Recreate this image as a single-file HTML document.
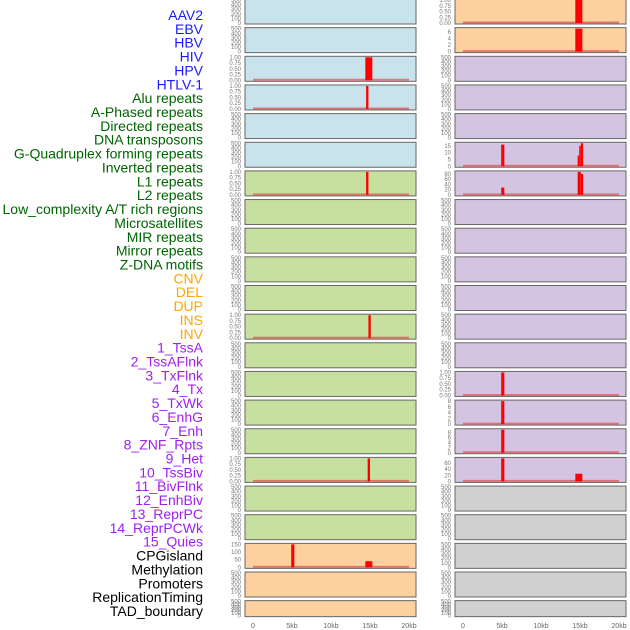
<!DOCTYPE html>
<html><head><meta charset="utf-8">
<style>
html,body{margin:0;padding:0;background:#fff;}
svg{display:block;font-family:"Liberation Sans",sans-serif;}
</style></head>
<body>
<svg id="chart" width="630" height="630" viewBox="0 0 630 630">
<g id="labels"></g>
<g id="panels"></g>
<g id="xaxes"></g>
</svg>
<script>
const labelNames = ["AAV2","EBV","HBV","HIV","HPV","HTLV-1","Alu repeats","A-Phased repeats","Directed repeats","DNA transposons","G-Quadruplex forming repeats","Inverted repeats","L1 repeats","L2 repeats","Low_complexity A/T rich regions","Microsatellites","MIR repeats","Mirror repeats","Z-DNA motifs","CNV","DEL","DUP","INS","INV","1_TssA","2_TssAFlnk","3_TxFlnk","4_Tx","5_TxWk","6_EnhG","7_Enh","8_ZNF_Rpts","9_Het","10_TssBiv","11_BivFlnk","12_EnhBiv","13_ReprPC","14_ReprPCWk","15_Quies","CPGisland","Methylation","Promoters","ReplicationTiming","TAD_boundary"];
const labelGroups = [6,13,5,15,5];
const groupColors = ["#1a1aff","#006400","#ffa500","#a020f0","#000000"];
const leftFill = ["b","b","b","b","b","b","g","g","g","g","g","g","g","g","g","g","g","g","g","o","o","o"];
const rightFill = ["o","o","p","p","p","p","p","p","p","p","p","p","p","p","p","p","p","y","y","y","y","y"];
const leftMax = [0,0,1,1,0,0,1,0,0,0,0,1,0,0,0,0,1,0,0,150,0,0];
const rightMax = [1,7,0,0,0,17,88,0,0,0,0,0,0,1,8,9,75,0,0,0,0,0];
const leftBars = {2:[[14.4,15.3,1]],3:[[14.5,14.8,1]],6:[[14.5,14.8,1]],11:[[14.8,15.1,1]],16:[[14.7,15.0,1]],19:[[4.9,5.3,150],[14.4,15.3,40]]};
const rightBars = {0:[[14.4,15.3,1]],1:[[14.4,15.3,7]],5:[[4.9,5.3,16],[14.7,14.9,8],[14.9,15.1,15],[15.1,15.4,17]],6:[[4.9,5.3,28],[14.7,15.1,88],[15.1,15.4,80]],13:[[4.9,5.3,1]],14:[[4.9,5.3,8]],15:[[4.9,5.3,9]],16:[[4.9,5.3,75],[14.4,15.3,25]]};
const xTickVals = [0,5,10,15,20];
const xTickLabels = ["0","5kb","10kb","15kb","20kb"];

const NS="http://www.w3.org/2000/svg";
function mk(tag,attrs,parent){const e=document.createElementNS(NS,tag);for(const k in attrs)e.setAttribute(k,attrs[k]);parent.appendChild(e);return e;}
const fills={b:"#c8e3eb",g:"#c8e09f",o:"#fdd09e",p:"#d4c4e2",y:"#d0d0d0"};
const labG=document.getElementById('labels');
let idx=0;
labelGroups.forEach((n,gi)=>{for(let i=0;i<n;i++){const t=mk('text',{x:203,y:20+idx*13.86,'text-anchor':'end','font-size':14,fill:groupColors[gi]},labG);


t.textContent=labelNames[idx];idx++;}});

const panG=document.getElementById('panels');
const rowTop=r=>-1+r*28.65;
function rowH(r){return r===21?16:25;}
function drawPanel(x0,x1,r,fill,max,bars,tickX,xs){
  const top=rowTop(r),h=rowH(r),bot=top+h;
  const g=mk('g',{},panG);
  
  
  const rect=mk('rect',{x:x0,y:top,width:x1-x0,height:h,fill:fills[fill],stroke:"#666",'stroke-width':1},g);
  
  
  const m=max||500;
  const ys=v=>bot-1-(v/m)*(h-2);
  let ticks;
  if(max===1) ticks=[[0,"0.00"],[0.25,"0.25"],[0.5,"0.50"],[0.75,"0.75"],[1,"1.00"]];
  else if(max===0) ticks=[0,100,200,300,400,500].map(v=>[v,String(v)]);
  else{const step=max>100?50:max>40?20:max>12?5:2;ticks=[];for(let v=0;v<=max;v+=step)ticks.push([v,String(v)]);}
  ticks.forEach(([v,l])=>{const t=mk('text',{x:tickX,y:ys(v)+2,'text-anchor':'end','font-size':6,fill:"#777"},g);
    
    
    t.textContent=l;});
  if(bars){
    const ln=mk('line',{x1:xs(0),x2:xs(20),y1:bot-1.5,y2:bot-1.5,stroke:"#e05050",'stroke-width':2,opacity:0.7},g);
    
    
    bars.forEach(b=>{const y=ys(b[2]);const br=mk('rect',{x:xs(b[0]),y:y,width:Math.max(1.5,xs(b[1])-xs(b[0])),height:bot-1-y,fill:"#ff0000"},g);
      
      });
  }
}
const xsL=v=>253+v*7.8, xsR=v=>463+v*7.8;
for(let r=0;r<22;r++){
  drawPanel(245,416,r,leftFill[r],leftMax[r],leftBars[r],241,xsL);
  drawPanel(455,626,r,rightFill[r],rightMax[r],rightBars[r],451,xsR);
}
const xa=document.getElementById('xaxes');
[xsL,xsR].forEach(xs=>{xTickVals.forEach((v,i)=>{const t=mk('text',{x:xs(v),y:628,'text-anchor':'middle','font-size':7,fill:"#666"},xa);
  
  
  t.textContent=xTickLabels[i];});});
</script>
</body></html>
